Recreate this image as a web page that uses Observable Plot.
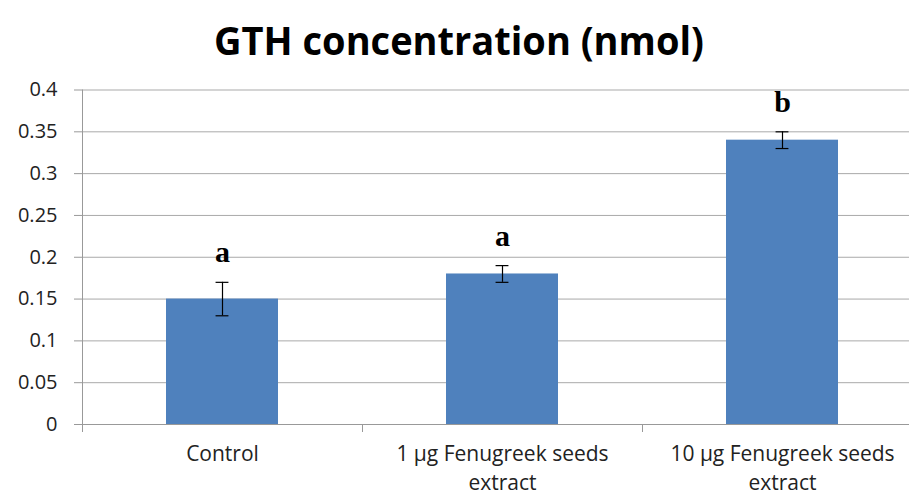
<!DOCTYPE html>
<html>
<head>
<meta charset="utf-8">
<script src="https://cdn.jsdelivr.net/npm/d3@7"></script>
<script src="https://cdn.jsdelivr.net/npm/@observablehq/plot@0.6"></script>
<style>
  html, body { margin: 0; padding: 0; background: #fff; }
  #wrap { position: relative; width: 909px; height: 495px; overflow: hidden; background: #fff; }
  #title { position: absolute; top: 0; left: 0; width: 918px; height: 70px; text-align: center;
           font-family: "Open Sans", sans-serif; font-weight: bold; font-size: 40px; line-height: 80px; color: #000;
           transform: scaleX(0.95); transform-origin: 459px 0; white-space: nowrap; }
  #chart { position: absolute; top: 70px; left: 0; width: 930px; }
  #chart svg { max-width: none !important; }
</style>
</head>
<body>
<div id="wrap">
  <div id="title">GTH concentration (nmol)</div>
  <div id="chart"></div>
</div>
<script>
const categories = ["Control", "1 µg Fenugreek seeds\nextract", "10 µg Fenugreek seeds\nextract"];
const means = [0.15, 0.18, 0.34];
const errors = [0.02, 0.01, 0.01];
const letters = ["a", "a", "b"];
const yTicks = [0, 0.05, 0.1, 0.15, 0.2, 0.25, 0.3, 0.35, 0.4];
const yTickLabels = ["0", "0.05", "0.1", "0.15", "0.2", "0.25", "0.3", "0.35", "0.4"];

const data = categories.map((c, i) => ({i, category: c, mean: means[i], err: errors[i], letter: letters[i]}));
const boundaries = d3.range(categories.length + 1).map(k => k - 0.5);
const half = 0.2;   // bar half-width in category units
const cap = 0.023;  // error cap half-width

const plot = Plot.plot({
  width: 930,
  height: 425,
  marginLeft: 82,
  marginRight: 8,
  marginTop: 19.5,
  marginBottom: 71,
  style: {fontFamily: "'Open Sans', sans-serif", fontSize: "20px", color: "#222", background: "#fff"},
  x: {type: "linear", domain: [-0.5, categories.length - 0.5]},
  y: {domain: [0, 0.4]},
  marks: [
    Plot.gridY(yTicks, {stroke: "#a9a9a9", strokeOpacity: 1}),
    Plot.axisY({ticks: yTicks, tickSize: 8, tickPadding: 17, stroke: "#999",
      tickFormat: d => yTickLabels[yTicks.indexOf(d)], fontSize: 20, label: null}),
    Plot.axisX({ticks: boundaries, tickSize: 8, stroke: "#999", tickFormat: () => "", label: null}),
    Plot.axisX({ticks: data.map(d => d.i), tickSize: 0, tickPadding: 16,
      tickFormat: d => categories[d], fontSize: 21, lineHeight: 1.37, label: null}),
    Plot.rectY(data, {x1: d => d.i - half, x2: d => d.i + half, y: "mean", fill: "#4f81bd"}),
    Plot.ruleY([0], {stroke: "#999"}),
    Plot.ruleX([-0.5], {stroke: "#999"}),
    Plot.ruleX(data, {x: "i", y1: d => d.mean - d.err, y2: d => d.mean + d.err, stroke: "#000", strokeWidth: 1.2}),
    Plot.ruleY(data, {y: d => d.mean + d.err, x1: d => d.i - cap, x2: d => d.i + cap, stroke: "#000", strokeWidth: 1.2}),
    Plot.ruleY(data, {y: d => d.mean - d.err, x1: d => d.i - cap, x2: d => d.i + cap, stroke: "#000", strokeWidth: 1.2}),
    Plot.text(data, {x: "i", y: d => d.mean + d.err, text: "letter", dy: -20, lineAnchor: "bottom",
      fontFamily: "'Liberation Serif', serif", fontWeight: "bold", fontSize: 30, fill: "#000"})
  ]
});
document.getElementById("chart").appendChild(plot);
</script>
</body>
</html>
